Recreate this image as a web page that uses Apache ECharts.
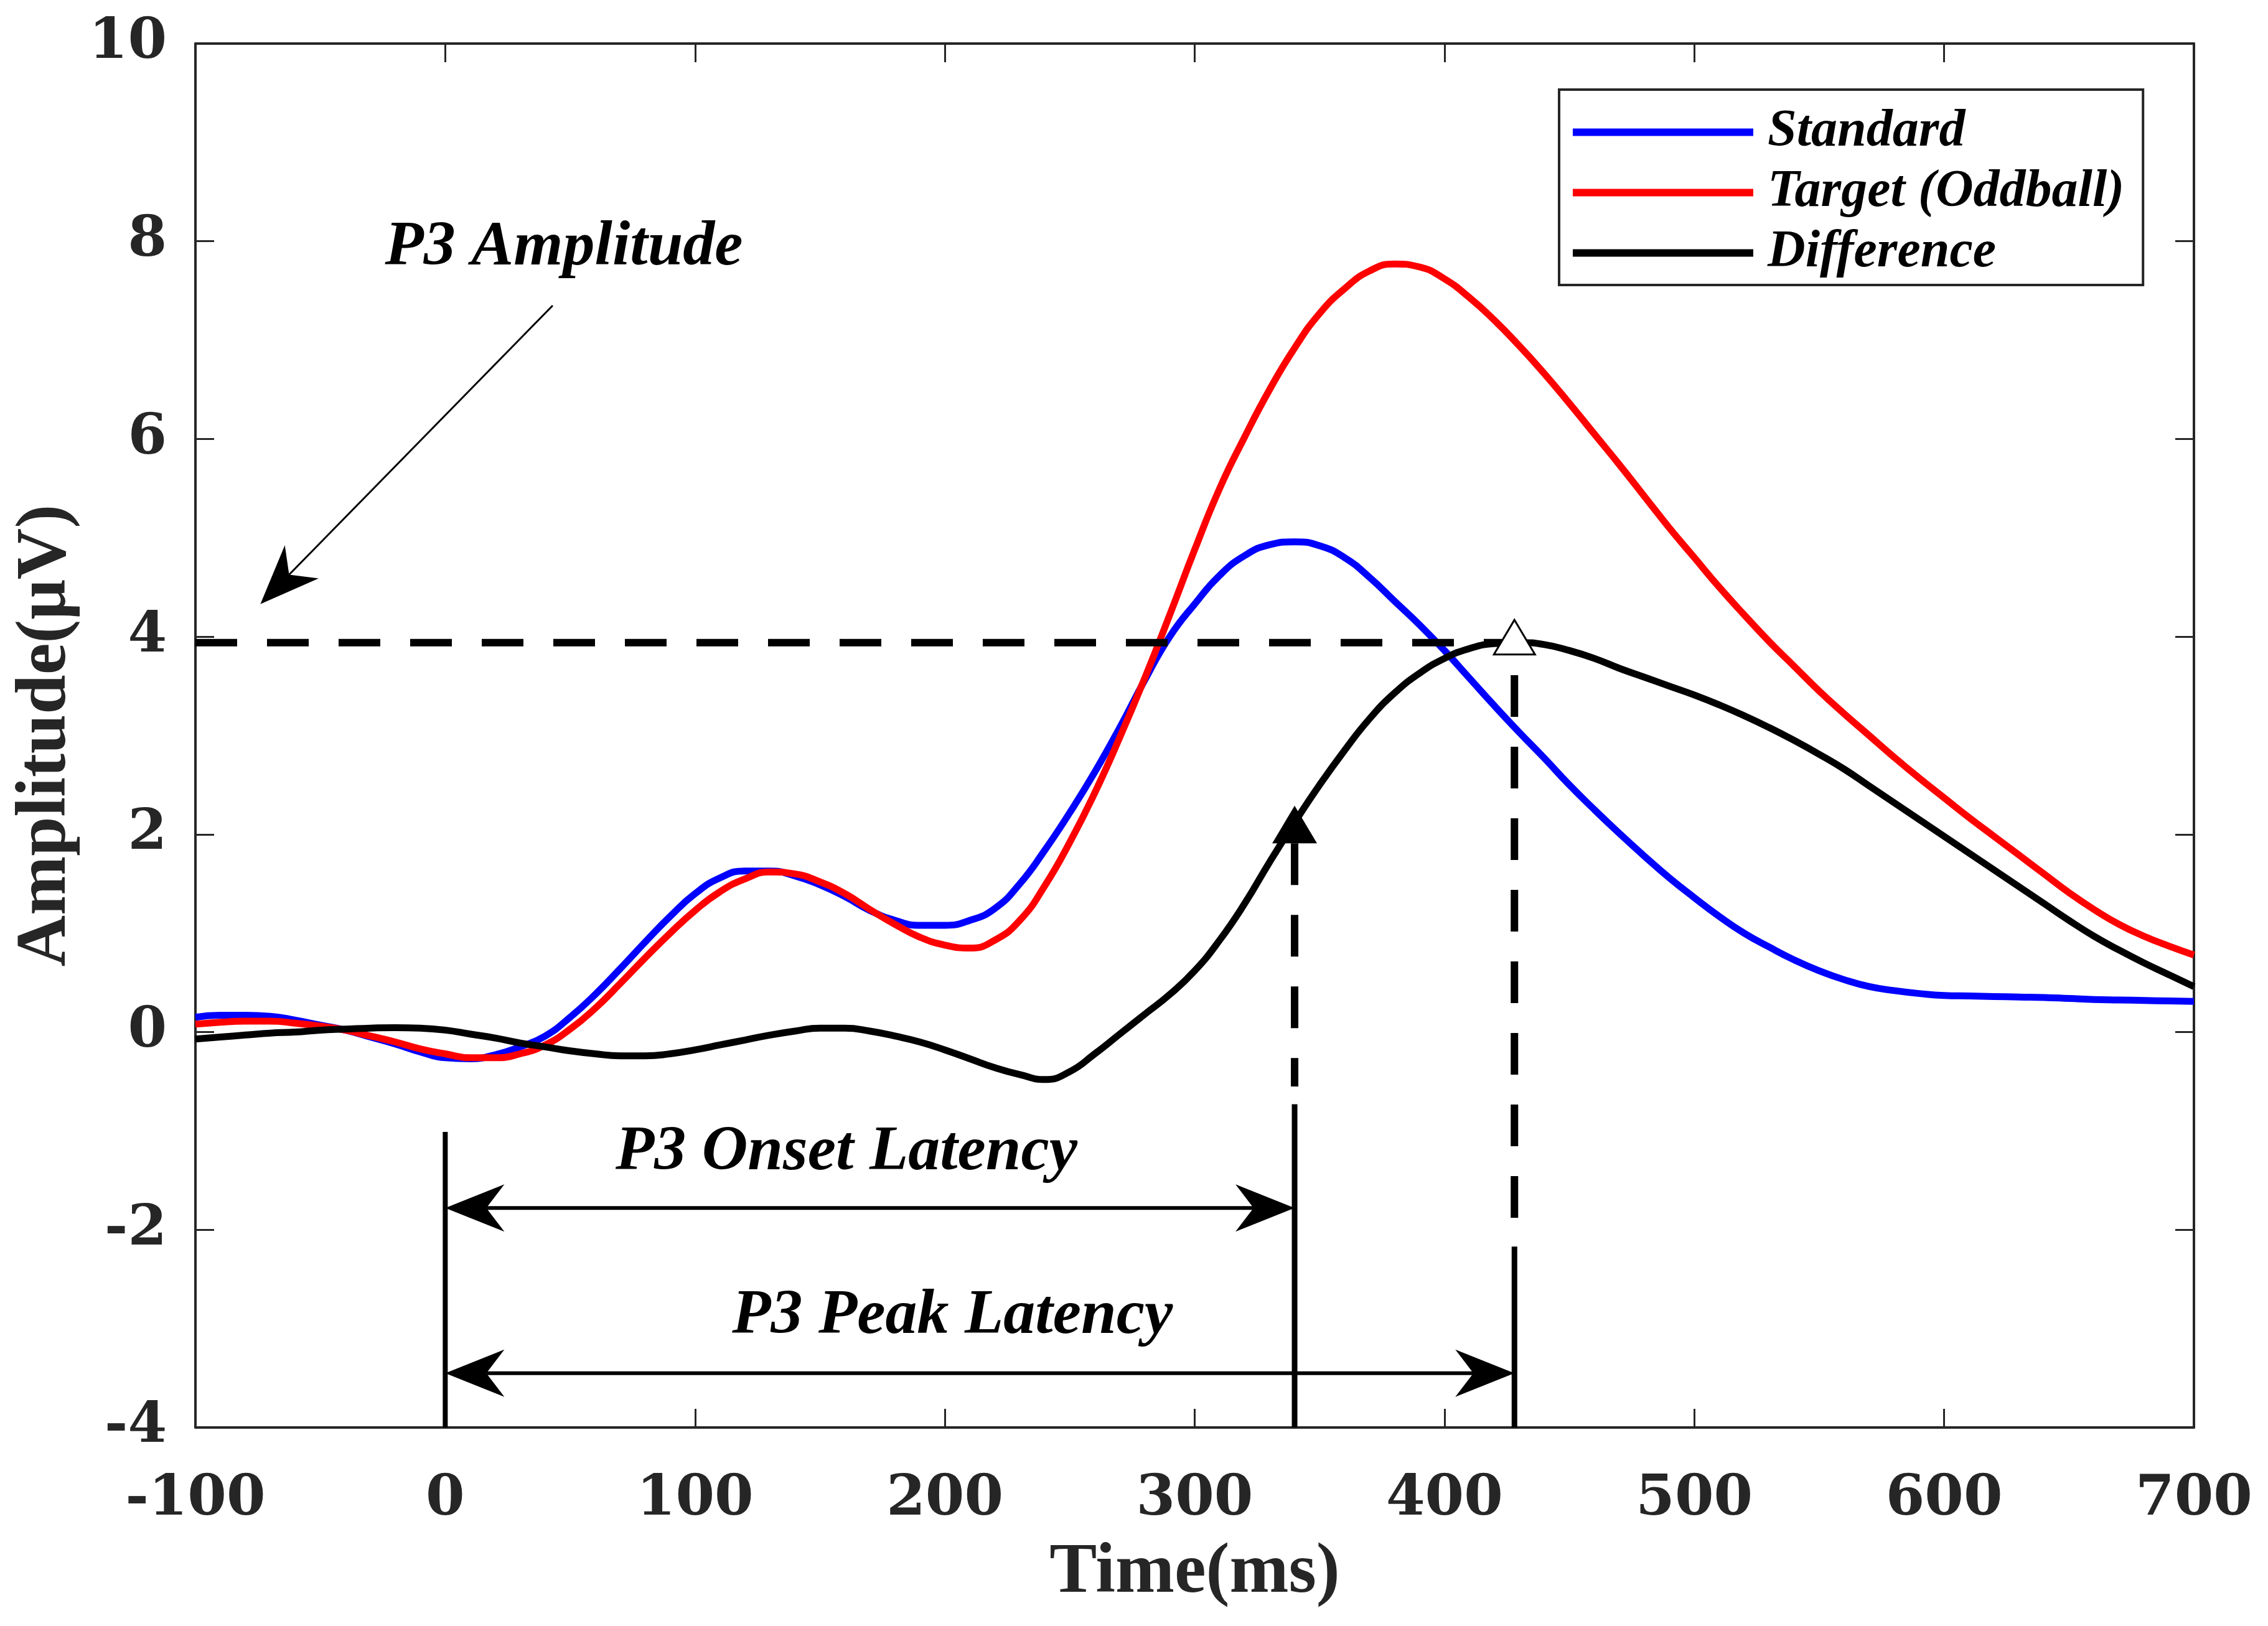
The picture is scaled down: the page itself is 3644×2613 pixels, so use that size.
<!DOCTYPE html>
<html>
<head>
<meta charset="utf-8">
<script src="https://cdn.jsdelivr.net/npm/echarts@6/dist/echarts.min.js"></script>
<style>
  html, body { margin: 0; padding: 0; background: #fff; }
  #chart { width: 3644px; height: 2613px; }
</style>
</head>
<body>
<div id="chart"></div>
<script>
// time axis (ms), -100 .. 700 every 10 ms
const time = [
  -100, -90, -80, -70, -60, -50, -40, -30, -20, -10,
  0, 10, 20, 30, 40, 50, 60, 70, 80, 90,
  100, 110, 120, 130, 140, 150, 160, 170, 180, 190,
  200, 210, 220, 230, 240, 250, 260, 270, 280, 290,
  300, 310, 320, 330, 340, 350, 360, 370, 380, 390,
  400, 410, 420, 430, 440, 450, 460, 470, 480, 490,
  500, 510, 520, 530, 540, 550, 560, 570, 580, 590,
  600, 610, 620, 630, 640, 650, 660, 670, 680, 690,
  700];

// amplitudes (uV)
const standard = [
  0.15, 0.17, 0.17, 0.16, 0.12, 0.07, 0.02, -0.05, -0.12, -0.2,
  -0.26, -0.27, -0.23, -0.15, -0.04, 0.15, 0.38, 0.64, 0.91, 1.17,
  1.4, 1.56, 1.63, 1.63, 1.58, 1.49, 1.37, 1.23, 1.13, 1.08,
  1.08, 1.13, 1.25, 1.5, 1.84, 2.22, 2.63, 3.08, 3.56, 4.0,
  4.33, 4.62, 4.82, 4.93, 4.96, 4.92, 4.8, 4.6, 4.36, 4.12,
  3.86, 3.58, 3.3, 3.03, 2.77, 2.5, 2.25, 2.01, 1.78, 1.56,
  1.36, 1.17, 1.0, 0.86, 0.73, 0.62, 0.53, 0.46, 0.42, 0.39,
  0.37, 0.365, 0.36, 0.355, 0.35, 0.34, 0.33, 0.325, 0.32, 0.315,
  0.31];

const target = [
  0.08, 0.1, 0.11, 0.11, 0.09, 0.06, 0.02, -0.04, -0.1, -0.17,
  -0.22, -0.26, -0.26, -0.22, -0.13, 0.03, 0.24, 0.49, 0.75, 1.0,
  1.23, 1.42, 1.55, 1.62, 1.6, 1.52, 1.4, 1.24, 1.09, 0.96,
  0.88, 0.85, 0.93, 1.13, 1.48, 1.92, 2.42, 2.98, 3.58, 4.22,
  4.88, 5.5, 6.02, 6.5, 6.92, 7.27, 7.52, 7.7, 7.77, 7.74,
  7.62, 7.43, 7.2, 6.94, 6.66, 6.36, 6.05, 5.74, 5.42, 5.1,
  4.8, 4.5, 4.22, 3.95, 3.7, 3.45, 3.22, 3.0, 2.78, 2.57,
  2.37, 2.17, 1.98, 1.79, 1.6, 1.41, 1.24, 1.09, 0.97, 0.87,
  0.78];

const difference = [
  -0.07, -0.05, -0.03, -0.01, 0.0, 0.02, 0.03, 0.04, 0.045, 0.04,
  0.02, -0.02, -0.06, -0.11, -0.15, -0.19, -0.22, -0.24, -0.24, -0.22,
  -0.18, -0.13, -0.08, -0.03, 0.01, 0.04, 0.04, 0.01, -0.04, -0.1,
  -0.18, -0.27, -0.36, -0.43, -0.48, -0.4, -0.22, -0.02, 0.18, 0.38,
  0.62, 0.93, 1.3, 1.72, 2.12, 2.5, 2.85, 3.17, 3.43, 3.63,
  3.78, 3.88, 3.93, 3.94, 3.92, 3.86, 3.78, 3.68, 3.59, 3.5,
  3.41, 3.31, 3.2, 3.08, 2.95, 2.81, 2.66, 2.49, 2.32, 2.15,
  1.98, 1.81, 1.64, 1.47, 1.3, 1.13, 0.97, 0.83, 0.7, 0.58,
  0.46];

const seriesNames = ['Standard', 'Target (Oddball)', 'Difference'];
const seriesColors = ['#0000ff', '#ff0000', '#000000'];

// annotation anchors (ms, uV)
const p3Amp = 3.94;
const onsetMs = 340;
const peakMs = 428;
const onsetMark = [1.91, 2.29];      // filled triangle base, tip
const peakMark = [3.82, 4.17];       // open triangle base, tip
const onsetDash = [1.91, -0.55];
const peakDash = [3.61, -2.0];
const onsetSolid = [-0.73, -4];
const peakSolid = [-2.17, -4];
const stimSolid = [-1.01, -4];
const onsetArrowY = -1.78;
const peakArrowY = -3.45;
const ampArrow = [[43, 7.35], [-74, 4.33]];
const ampLabel = [47.5, 7.93];
const onsetLabel = [160.6, -1.22];
const peakLabel = [203, -2.88];

function pairs(vals) {
  return time.map(function (t, i) { return [t, vals[i]]; });
}

function drawNotes(params, api) {
  const p = function (x, y) { return api.coord([x, y]); };
  const items = [];
  const line = function (a, b, w, dash) {
    items.push({
      type: 'line',
      shape: { x1: a[0], y1: a[1], x2: b[0], y2: b[1] },
      style: { stroke: '#000', lineWidth: w, lineDash: dash || null, lineCap: 'butt' }
    });
  };
  const poly = function (pts, fill, stroke) {
    items.push({
      type: 'polygon',
      shape: { points: pts },
      style: { fill: fill, stroke: stroke || null, lineWidth: stroke ? 3 : 0 }
    });
  };
  // arrow head, (ux,uy) points from the tip back along the shaft
  const head = function (tip, ux, uy) {
    const L = 95, H = 38, N = 66;
    return [tip,
      [tip[0] + ux * L - uy * H, tip[1] + uy * L + ux * H],
      [tip[0] + ux * N, tip[1] + uy * N],
      [tip[0] + ux * L + uy * H, tip[1] + uy * L - ux * H]];
  };
  const label = function (pos, text) {
    const q = p(pos[0], pos[1]);
    items.push({
      type: 'text', x: q[0], y: q[1],
      style: {
        text: text, fill: '#000', fontFamily: 'Liberation Serif', fontStyle: 'italic',
        fontWeight: 'bold', fontSize: 102, align: 'center', verticalAlign: 'middle'
      }
    });
  };
  const dash = [67, 48];

  // amplitude level
  line(p(-100, p3Amp), p(peakMs, p3Amp), 12, dash);

  // latency guides
  line(p(onsetMs, onsetDash[0]), p(onsetMs, onsetDash[1]), 12, dash);
  line(p(peakMs, peakDash[0]), p(peakMs, peakDash[1]), 12, dash);
  line(p(0, stimSolid[0]), p(0, stimSolid[1]), 8);
  line(p(onsetMs, onsetSolid[0]), p(onsetMs, onsetSolid[1]), 9);
  line(p(peakMs, peakSolid[0]), p(peakMs, peakSolid[1]), 9);

  // double arrows
  [[onsetArrowY, onsetMs], [peakArrowY, peakMs]].forEach(function (a) {
    const l = p(0, a[0]), r = p(a[1], a[0]);
    line([l[0] + 66, l[1]], [r[0] - 66, r[1]], 6);
    poly(head(l, 1, 0), '#000');
    poly(head(r, -1, 0), '#000');
  });

  // amplitude arrow
  const s = p(ampArrow[0][0], ampArrow[0][1]);
  const t = p(ampArrow[1][0], ampArrow[1][1]);
  const dx = s[0] - t[0], dy = s[1] - t[1];
  const len = Math.sqrt(dx * dx + dy * dy);
  const ux = dx / len, uy = dy / len;
  line(s, [t[0] + ux * 66, t[1] + uy * 66], 3);
  poly(head(t, ux, uy), '#000');

  // onset marker (filled) and peak marker (open)
  const ot = p(onsetMs, onsetMark[1]), ob = p(onsetMs, onsetMark[0]);
  poly([ot, [ob[0] - 36, ob[1]], [ob[0] + 36, ob[1]]], '#000');
  const pt = p(peakMs, peakMark[1]), pb = p(peakMs, peakMark[0]);
  poly([pt, [pb[0] - 33, pb[1]], [pb[0] + 33, pb[1]]], '#fff', '#000');

  label(ampLabel, 'P3 Amplitude');
  label(onsetLabel, 'P3 Onset Latency');
  label(peakLabel, 'P3 Peak Latency');

  return { type: 'group', children: items };
}

const axisColor = '#262626';
const tickFont = { fontFamily: 'DejaVu Serif', fontWeight: 'bold', fontSize: 90, color: axisColor };
const titleFont = { fontFamily: 'Liberation Serif', fontWeight: 'bold', fontSize: 114, color: axisColor };

function frameAxis(pos, min, max, interval, showLabel, extra) {
  return Object.assign({
    type: 'value', position: pos, min: min, max: max, interval: interval,
    axisLine: { show: true, onZero: false, lineStyle: { color: axisColor, width: 4 } },
    axisTick: { show: true, inside: true, length: 30, lineStyle: { color: axisColor, width: 3 } },
    axisLabel: { show: showLabel },
    splitLine: { show: false }
  }, extra || {});
}

const chart = echarts.init(document.getElementById('chart'), null, { renderer: 'canvas' });

chart.setOption({
  animation: false,
  backgroundColor: '#fff',
  grid: { left: 314, right: 119, top: 70, bottom: 319, containLabel: false, outerBoundsMode: 'none' },
  legend: {
    data: seriesNames,
    orient: 'vertical',
    left: 2505,
    top: 144,
    icon: 'rect',
    itemWidth: 290,
    itemHeight: 12,
    itemGap: 0,
    padding: [20, 30, 3, 22],
    backgroundColor: '#fff',
    borderColor: axisColor,
    borderWidth: 4,
    borderRadius: 0,
    textStyle: {
      fontFamily: 'Liberation Serif', fontStyle: 'italic', fontWeight: 'bold',
      fontSize: 84, lineHeight: 97, color: '#000', padding: [0, 0, 0, 18]
    }
  },
  xAxis: [
    frameAxis('bottom', -100, 700, 100, true, {
      name: 'Time(ms)', nameLocation: 'middle', nameGap: 178, nameTextStyle: titleFont,
      axisLabel: Object.assign({ show: true, margin: 72 }, tickFont)
    }),
    frameAxis('top', -100, 700, 100, false)
  ],
  yAxis: [
    frameAxis('left', -4, 10, 2, true, {
      name: 'Amplitude(\u03bcV)', nameLocation: 'middle', nameGap: 180, nameTextStyle: titleFont,
      axisLabel: Object.assign({ show: true, margin: 46 }, tickFont)
    }),
    frameAxis('right', -4, 10, 2, false)
  ],
  series: [0, 1, 2].map(function (i) {
    return {
      name: seriesNames[i],
      type: 'line',
      data: pairs([standard, target, difference][i]),
      smooth: 0.5,
      showSymbol: false,
      color: seriesColors[i],
      lineStyle: { color: seriesColors[i], width: 11 },
      z: 2 + i
    };
  }).concat([{
    type: 'custom',
    data: [[0, 0]],
    renderItem: drawNotes,
    clip: false,
    silent: true,
    z: 10
  }])
});
</script>
</body>
</html>
